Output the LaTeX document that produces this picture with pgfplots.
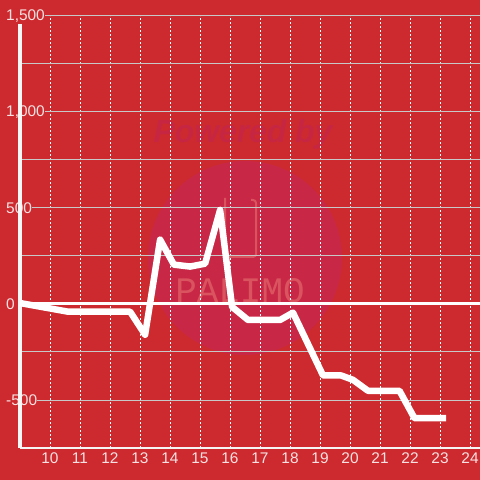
\documentclass[border=0pt]{standalone}
\usepackage{fontspec}
\setmainfont{Liberation Sans}
\newfontfamily\wmfont{Liberation Mono}
\usepackage{pgfplots}
\pgfplotsset{compat=1.18}
\definecolor{bgred}{RGB}{205,42,47}
\definecolor{wmcircle}{RGB}{201,39,70}
\definecolor{wmtext}{RGB}{199,38,66}
\definecolor{wmlogo}{RGB}{218,84,96}
\definecolor{lbl}{RGB}{246,226,226}
\definecolor{hgrid}{RGB}{200,200,200}
\begin{document}
\begin{tikzpicture}
\fill[bgred] (-20bp,-32bp) rectangle (460bp,448bp);
\path[use as bounding box] (-20bp,-32bp) rectangle (460bp,448bp);
% watermark (shifted by -20,-32)
\fill[wmcircle] (225bp,190bp) circle (97bp);
\node[wmtext, font=\fontsize{32}{32}\selectfont\bfseries\itshape] at (223bp,314bp) {Powered by};
\draw[wmlogo, line width=2bp, rounded corners=3bp] (205bp,250bp) -- (205bp,191bp) -- (236bp,191bp) -- (236bp,248bp) -- (231bp,248bp);
\node[wmlogo, font=\fontsize{36}{36}\selectfont\wmfont] at (220bp,157bp) {PALIMO};
\begin{axis}[
  at={(0,0)}, anchor=south west,
  scale only axis, width=460bp, height=432bp,
  xmin=9, xmax=24.3333, ymin=-750, ymax=1500,
  clip=false,
  axis line style={draw=none},
  tick style={draw=none},
  xtick={10,...,24},
  ytick={-500,0,500,1000,1500},
  yticklabels={{-500},{0},{500},{1,000},{1,500}},
  minor ytick={-250,250,750,1250},
  xmajorgrids, ymajorgrids, yminorgrids,
  major x grid style={white, dash pattern=on 2bp off 2bp, line width=0.9bp},
  major y grid style={hgrid, line width=1bp},
  minor y grid style={hgrid, line width=1bp},
  /pgf/number format/assume math mode=true,
  xticklabel style={lbl, font=\fontsize{15.5}{17}\selectfont, yshift=-1bp},
  yticklabel style={lbl, font=\fontsize{15.5}{17}\selectfont, anchor=west, xshift=-14bp, fill=bgred, inner xsep=0pt, inner ysep=3bp},
]
\draw[white, line width=3bp] (axis cs:9,0) -- (axis cs:24.3333,0);
\draw[white!92!gray, line width=2bp] (axis cs:9,-750) -- (axis cs:24.3333,-750);
\draw[white!94!gray, line width=3bp] (axis cs:9,-750) -- (axis cs:9,1458);
\addplot[white, line width=6.5bp, line join=round, mark=none] coordinates {
(9.0,5) (10.6,-40) (12.67,-40) (13.17,-160) (13.67,335) (14.13,205) (14.67,195) (15.17,210) (15.67,490) (16.07,-15) (16.6,-83) (17.67,-83) (18.1,-45) (19.1,-372) (19.7,-372) (20.1,-395) (20.6,-452) (21.65,-452) (22.15,-595) (23.2,-595)
};
\end{axis}
\end{tikzpicture}
\end{document}
